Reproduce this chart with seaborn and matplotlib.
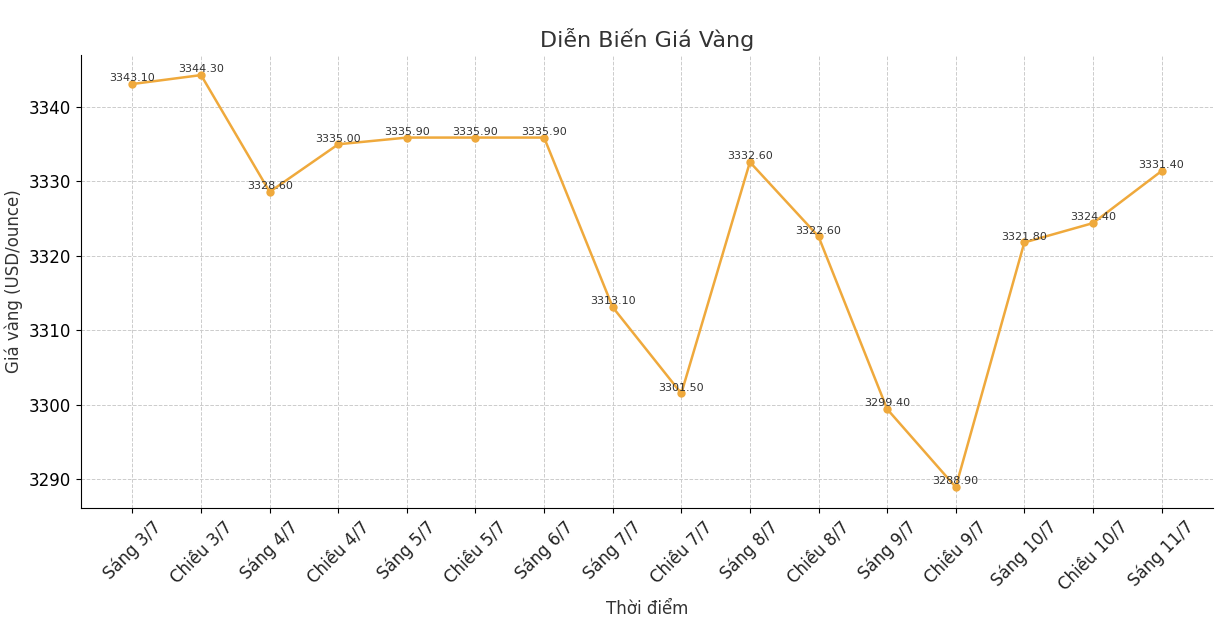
import matplotlib
matplotlib.use("Agg")
import matplotlib.pyplot as plt
import seaborn as sns
import pandas as pd

labels = ["Sáng 3/7","Chiều 3/7","Sáng 4/7","Chiều 4/7","Sáng 5/7","Chiều 5/7","Sáng 6/7",
          "Sáng 7/7","Chiều 7/7","Sáng 8/7","Chiều 8/7","Sáng 9/7","Chiều 9/7","Sáng 10/7",
          "Chiều 10/7","Sáng 11/7"]
prices = [3343.10,3344.30,3328.60,3335.00,3335.90,3335.90,3335.90,3313.10,3301.50,
          3332.60,3322.60,3299.40,3288.90,3321.80,3324.40,3331.40]

df = pd.DataFrame({"x": range(len(labels)), "y": prices})
plt.rcParams["font.family"] = "DejaVu Sans"
fig = plt.figure(figsize=(12.16, 6.42), dpi=100)
ax = fig.add_axes([81/1216, 1-508/642, (1213-81)/1216, (508-55)/642])
color = "#EFA93C"
sns.lineplot(data=df, x="x", y="y", ax=ax, color=color, marker="o", markersize=6,
             markeredgewidth=0, linewidth=1.8)
for i, v in enumerate(prices):
    ax.text(i, v + 0.1, f"{v:.2f}", ha="center", va="bottom", fontsize=8, color="#333333")
ax.set_xticks(range(len(labels)))
ax.set_xticklabels(labels, rotation=45, fontsize=12, color="#222222")
ax.tick_params(axis="y", labelsize=12)
ax.set_xlim(-0.75, 15.75)
ax.set_ylim(3286.1, 3347.0)
ax.set_yticks([3290,3300,3310,3320,3330,3340])
ax.grid(True, linestyle="--", color="#cccccc", linewidth=0.7)
for s in ["top","right"]:
    ax.spines[s].set_visible(False)
ax.set_title("Diễn Biến Giá Vàng", fontsize=16, color="#333333", pad=6)
ax.set_xlabel("Thời điểm", fontsize=12, color="#333333")
ax.set_ylabel("Giá vàng (USD/ounce)", fontsize=12, color="#333333")
fig.savefig("out.png", dpi=100)
